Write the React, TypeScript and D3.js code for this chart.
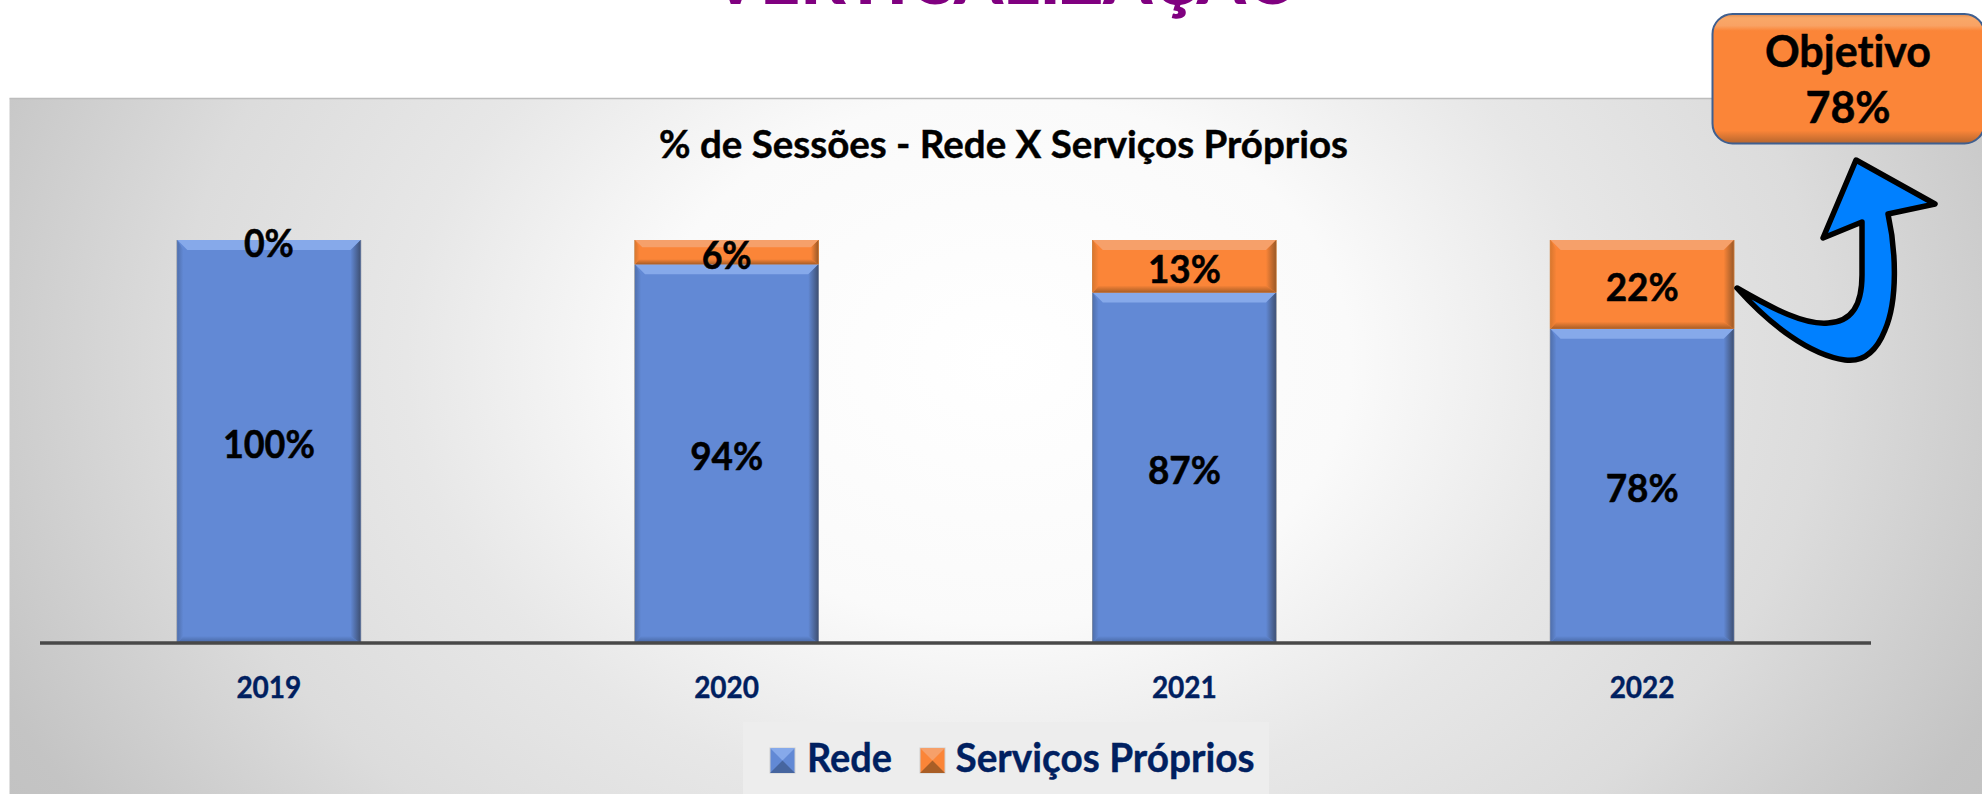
import React, { useEffect, useRef } from "react";
import * as d3 from "d3";

const categories = ["2019", "2020", "2021", "2022"];
const redeValues = [100, 94, 87, 78];
const propriosValues = [0, 6, 13, 22];
const seriesNames = ["Rede", "Serviços Próprios"];
const pageTitle = "VERTICALIZAÇÃO";
const chartTitle = "% de Sessões - Rede X Serviços Próprios";
const goalLines = ["Objetivo", "78%"];

const W = 1982;
const H = 794;
const FONT = "Lato, Carlito, 'Open Sans', sans-serif";

type Pal = { id: string; main: string; top: string; bottom: string; left: string; right: string; edge: string };
const BLUE: Pal = { id: "b", main: "#6289d5", top: "#86a9ea", bottom: "#46659f", left: "#5070ad", right: "#3f5175", edge: "#8a8f99" };
const ORANGE: Pal = { id: "o", main: "#fb8538", top: "#f6a06a", bottom: "#a95e26", left: "#d9772f", right: "#9c5a28", edge: "#c9803f" };

const x = d3.scaleBand<string>().domain(categories).range([40, 1871]).paddingInner(0.6).paddingOuter(0.3);
const y = d3.scaleLinear().domain([0, 100]).range([643, 240]);

const rows = categories.map((c, i) => ({ cat: c, Rede: redeValues[i], Proprios: propriosValues[i] }));
const stacked = d3.stack<any>().keys(["Rede", "Proprios"])(rows);
const labelWidth: Record<number, number> = { 2: 50, 3: 73, 4: 92 };

function Bevel({ bx, by, w, h, pal, b }: { bx: number; by: number; w: number; h: number; pal: Pal; b: number }) {
  const r = bx + w;
  const t = by + h;
  const bb = b * 0.7;
  const poly = (p: number[][]) => p.map((q) => q.join(",")).join(" ");
  return (
    <g>
      <rect x={bx - 0.8} y={by} width={w + 1.6} height={h} fill={pal.edge} />
      <rect x={bx} y={by} width={w} height={h} fill={pal.main} />
      <polygon points={poly([[bx, t], [r, t], [r - b, t - bb], [bx + b * 0.6, t - bb]])} fill={`url(#${pal.id}B)`} />
      <polygon points={poly([[bx, by], [bx + b * 0.6, by + b], [bx + b * 0.6, t - bb], [bx, t]])} fill={`url(#${pal.id}L)`} />
      <polygon points={poly([[r, by], [r - b, by + b], [r - b, t - bb], [r, t]])} fill={`url(#${pal.id}R)`} />
      <polygon points={poly([[bx, by], [r, by], [r - b, by + b], [bx + b, by + b]])} fill={pal.top} />
    </g>
  );
}

function BevelDefs({ pal }: { pal: Pal }) {
  return (
    <>
      <linearGradient id={`${pal.id}B`} x1="0" y1="1" x2="0" y2="0">
        <stop offset="0" stopColor={pal.bottom} />
        <stop offset="1" stopColor={pal.main} />
      </linearGradient>
      <linearGradient id={`${pal.id}L`} x1="0" y1="0" x2="1" y2="0">
        <stop offset="0" stopColor={pal.left} />
        <stop offset="1" stopColor={pal.main} />
      </linearGradient>
      <linearGradient id={`${pal.id}R`} x1="1" y1="0" x2="0" y2="0">
        <stop offset="0" stopColor={pal.right} />
        <stop offset="1" stopColor={pal.main} />
      </linearGradient>
    </>
  );
}

export default function App() {
  const axisRef = useRef<SVGGElement>(null);
  useEffect(() => {
    document.body.style.margin = "0";
    const g = d3.select(axisRef.current as SVGGElement);
    g.call(d3.axisBottom(x).tickSize(0).tickPadding(34) as any);
    g.select(".domain").attr("stroke", "#484848").attr("stroke-width", 3.5).attr("d", "M40,0H1871");
    g.selectAll("text")
      .attr("font-family", FONT)
      .attr("font-weight", 700)
      .attr("font-size", 30)
      .attr("fill", "#002060")
      .attr("stroke", "#002060")
      .attr("stroke-width", 0.4)
      .attr("textLength", 65)
      .attr("lengthAdjust", "spacingAndGlyphs");
  }, []);

  const bandW = x.bandwidth();
  const ink = { fontFamily: FONT, fontWeight: 700, style: { fontVariantLigatures: "none" } } as const;

  return (
    <svg width={W} height={H} viewBox={`0 0 ${W} ${H}`} style={{ position: "absolute", left: 0, top: 0, display: "block", background: "#fff" }}>
      <defs>
        <radialGradient id="panel" gradientUnits="userSpaceOnUse" cx={0} cy={0} r={1.35}
          gradientTransform="translate(1000 360) scale(1000 750)">
          <stop offset="0" stopColor="#ffffff" />
          <stop offset="0.26" stopColor="#fafafa" />
          <stop offset="0.44" stopColor="#e7e7e7" />
          <stop offset="0.61" stopColor="#dcdcdc" />
          <stop offset="0.81" stopColor="#c4c4c4" />
          <stop offset="1" stopColor="#bcbcbc" />
        </radialGradient>
        <linearGradient id="goal" x1="0" y1="0" x2="0" y2="1">
          <stop offset="0" stopColor="#e08a4d" />
          <stop offset="0.03" stopColor="#f9a868" />
          <stop offset="0.09" stopColor="#f9a264" />
          <stop offset="0.13" stopColor="#fb8538" />
          <stop offset="0.9" stopColor="#fb8538" />
          <stop offset="1" stopColor="#b5652e" />
        </linearGradient>
        <BevelDefs pal={BLUE} />
        <BevelDefs pal={ORANGE} />
      </defs>

      <text x={1006} y={4} textAnchor="middle" fontFamily={FONT} fontWeight={900} fontSize={80} fill="#800080"
        textLength={590} lengthAdjust="spacingAndGlyphs">{pageTitle}</text>

      <rect x={9.5} y={98.5} width={W - 9.5} height={H - 98.5} fill="url(#panel)" />
      <line x1={9.5} x2={W} y1={98.5} y2={98.5} stroke="#bdbdbd" strokeWidth={1.5} />

      <text x={1003.5} y={158} textAnchor="middle" {...ink} fontSize={38} fill="#000" stroke="#000" strokeWidth={0.4}
        textLength={689} lengthAdjust="spacingAndGlyphs">{chartTitle}</text>

      {stacked.map((s, si) =>
        s.map((d, i) => {
          const v = d[1] - d[0];
          if (v <= 0) return null;
          const top = y(d[1]);
          const h = y(d[0]) - top;
          return (
            <Bevel key={`${si}-${i}`} bx={x(categories[i]) as number} by={top} w={bandW} h={h}
              pal={si === 0 ? BLUE : ORANGE} b={Math.min(10, h * 0.3)} />
          );
        })
      )}

      <g ref={axisRef} transform={`translate(0,${y(0)})`} />

      {stacked.map((s, si) =>
        s.map((d, i) => {
          const t = `${d[1] - d[0]}%`;
          return (
            <text key={`l${si}-${i}`} x={(x(categories[i]) as number) + bandW / 2} y={(y(d[0]) + y(d[1])) / 2 + 1.5}
              textAnchor="middle" dominantBaseline="central" {...ink} fontSize={38} fill="#000" stroke="#000" strokeWidth={0.5}
              textLength={labelWidth[t.length]} lengthAdjust="spacingAndGlyphs">{t}</text>
          );
        })
      )}

      <rect x={743} y={722} width={526} height={72} fill="#ededed" />
      {seriesNames.map((n, i) => {
        const sx = [770, 920][i];
        const tx = [807, 955.5][i];
        const tl = [85, 299][i];
        const pal = i === 0 ? BLUE : ORANGE;
        const sy = 748;
        const sw = 25;
        const m = [sx + sw / 2, sy + sw / 2];
        return (
          <g key={n}>
            <rect x={sx} y={sy} width={sw} height={sw} fill={pal.main} stroke="#cfcfcf" strokeWidth={1} />
            <polygon points={`${sx},${sy} ${sx + sw},${sy} ${m[0]},${m[1]}`} fill={pal.top} />
            <polygon points={`${sx},${sy + sw} ${sx + sw},${sy + sw} ${m[0]},${m[1]}`} fill={pal.bottom} />
            <text x={tx} y={772} {...ink} fontSize={41} fill="#002060" stroke="#002060" strokeWidth={0.4}
              textLength={tl} lengthAdjust="spacingAndGlyphs">{n}</text>
          </g>
        );
      })}

      <rect x={1712.5} y={14} width={272} height={129.5} rx={20} ry={20} fill="url(#goal)" stroke="#3f5f8f" strokeWidth={2} />
      {goalLines.map((t, i) => (
        <text key={t} x={1848} y={[67, 122.5][i]} textAnchor="middle" {...ink} fontSize={43} fill="#000" stroke="#000" strokeWidth={0.5}>{t}</text>
      ))}

      <path
        d="M1737,288 C1775,310 1805,325 1828,323 C1852,322 1862,305 1862,275 L1862,222 L1823,238 L1856,160 L1935,204 L1888,214 C1896,250 1898,300 1885,330 C1875,355 1860,362 1845,360 C1810,355 1770,325 1737,288 Z"
        fill="#0080ff" stroke="#000" strokeWidth={5.5} strokeLinejoin="round"
      />
    </svg>
  );
}
